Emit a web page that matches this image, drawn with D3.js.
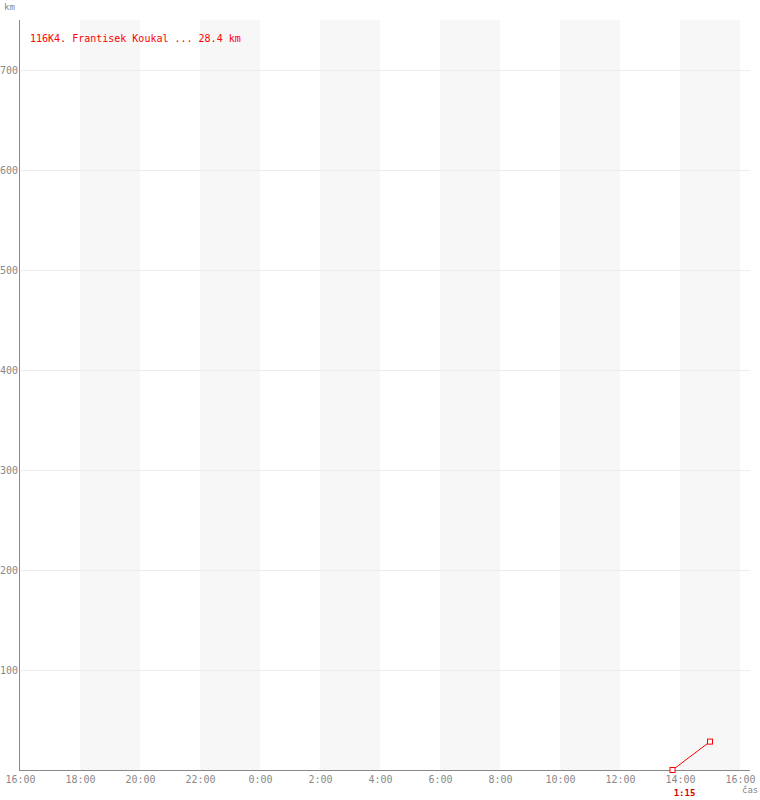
<!DOCTYPE html>
<html><head><meta charset="utf-8">
<script src="https://cdn.jsdelivr.net/npm/d3@7"></script>
<style>body{margin:0;background:#fff}svg{display:block}text{font-family:"DejaVu Sans Mono",monospace}</style>
</head><body>
<script>
const yTicks = [100,200,300,400,500,600,700];
const xTickHours = [16,18,20,22,24,26,28,30,32,34,36,38,40]; // hours from day start
const bandStarts = [18,22,26,30,34,38];
const seriesName = "116K4. Frantisek Koukal ... 28.4 km";
const pointTimes = [37.75, 39.0]; // 13:45, 15:00 next day
const pointKm = [0, 28.4];
const durationLabel = "1:15";
const durationLabelAt = 38.15;

const W=760,H=800;
const svg=d3.select("body").append("svg").attr("width",W).attr("height",H);
const x=d3.scaleLinear().domain([16,40]).range([20,740]);
const y=d3.scaleLinear().domain([0,750]).range([770,20]);

svg.selectAll("rect.band").data(bandStarts).join("rect")
 .attr("x",d=>x(d)).attr("y",y(750)).attr("width",d=>x(d+2)-x(d)).attr("height",y(0)-y(750))
 .attr("fill","#f7f7f7");

svg.selectAll("line.grid").data(yTicks).join("line")
 .attr("x1",x(16)).attr("x2",x(40)+10).attr("y1",d=>y(d)+0.5).attr("y2",d=>y(d)+0.5)
 .attr("stroke","#ececec");

const fmt=h=>{const hh=((h%24)+24)%24;return hh+":00";};
const xAxis=svg.append("g").attr("transform",`translate(0,${y(0)})`)
 .call(d3.axisBottom(x).tickValues(xTickHours).tickFormat(fmt).tickSize(0).tickPadding(6));
xAxis.attr("font-family",null).attr("font-size",null);
xAxis.select(".domain").attr("stroke","#888").attr("d",`M${x(16)},0.5H${x(40)+10}`);
xAxis.selectAll("text").attr("fill","#888").style("font-size","10px").style("font-family","DejaVu Sans Mono");

const yAxis=svg.append("g").attr("transform",`translate(${x(16)},0)`)
 .call(d3.axisLeft(y).tickValues(yTicks).tickSize(0).tickPadding(2));
yAxis.attr("font-family",null).attr("font-size",null);
yAxis.select(".domain").attr("stroke","#888").attr("d",`M-0.5,${y(750)}V${y(0)+1}`);
yAxis.selectAll("text").attr("fill","#888").style("font-size","10px").style("font-family","DejaVu Sans Mono");

svg.append("text").attr("x",4).attr("y",10).style("font-size","9px").attr("fill","#888").text("km");
svg.append("text").attr("x",742).attr("y",793).style("font-size","9px").attr("fill","#888").text("čas");

const pts=pointTimes.map((t,i)=>[t,pointKm[i]]);
svg.append("path").datum(pts)
 .attr("d",d3.line().x(d=>x(d[0])).y(d=>y(d[1])))
 .attr("fill","none").attr("stroke","red").attr("stroke-width",1);
svg.selectAll("rect.pt").data(pts).join("rect")
 .attr("x",d=>x(d[0])-2.5).attr("y",d=>y(d[1])-2.5).attr("width",5).attr("height",5)
 .attr("fill","white").attr("stroke","red").attr("stroke-width",1);

svg.append("text").attr("x",x(durationLabelAt)).attr("y",796).attr("text-anchor","middle")
 .style("font-size","9px").attr("font-weight","bold").attr("fill","#d00").text(durationLabel);

svg.append("text").attr("x",30).attr("y",42).style("font-size","10px").attr("fill","red").text(seriesName);
</script>
</body></html>
